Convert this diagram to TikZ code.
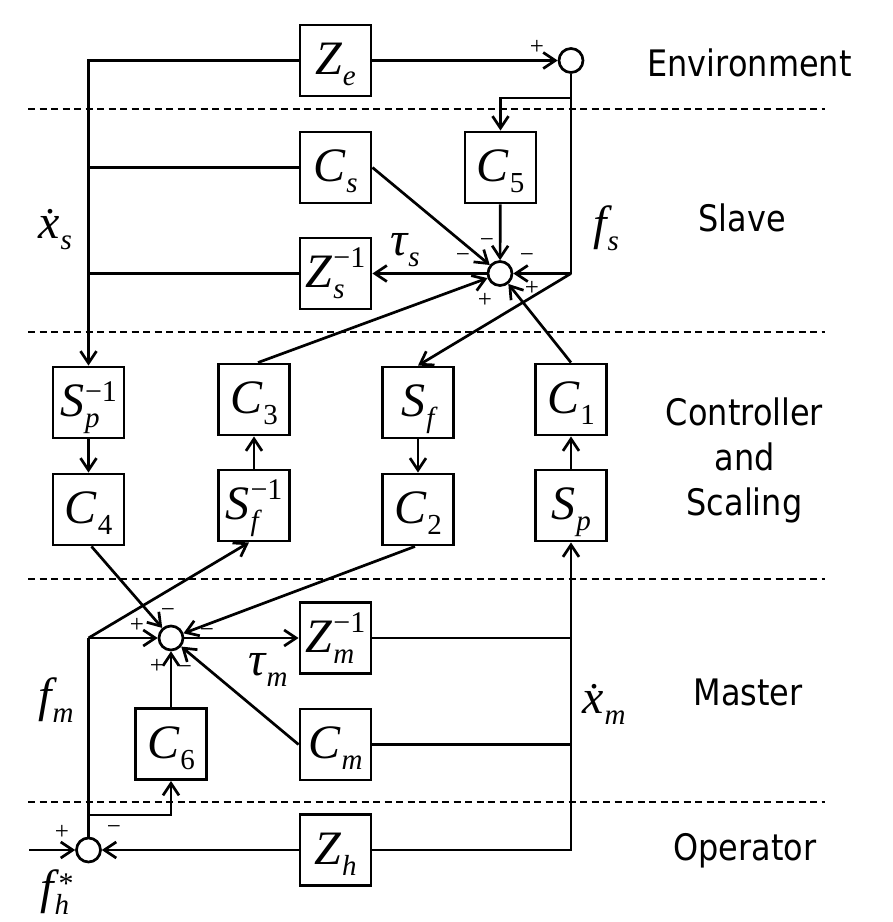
\documentclass[tikz,border=0pt]{standalone}
\usepackage{fontspec}
\usepackage{graphicx}
\setmainfont{Liberation Serif}
\newfontfamily\lblfont{DejaVu Sans}
\usetikzlibrary{arrows.meta}
\newcommand\Lsz{\fontsize{48}{48}\selectfont}
\newcommand\Ssz{\fontsize{29}{29}\selectfont}
\newcommand\Psz{\fontsize{30}{30}\selectfont}
\newcommand\blk[4][20pt]{{\Lsz\itshape #2}\kern1pt\ooalign{\raisebox{-11pt}{\Ssz #3}\cr\raisebox{#1}{\Psz #4}\cr}}
\newcommand\xdt{\rlap{\kern7pt\raisebox{25pt}{\fontsize{40}{40}\selectfont\upshape.}}x}
\newcommand\regl[1]{\scalebox{0.875}[1]{#1}}
\tikzset{
  blkbox/.style={draw, line width=2.9pt, minimum width=71pt, minimum height=71pt, inner sep=0pt, text height=40pt, text depth=12pt},
  sumc/.style={draw, circle, line width=2.7pt, minimum size=24pt, inner sep=0pt},
  ln/.style={line width=2.7pt},
  arr/.style={line width=2.7pt, -{Straight Barb[length=12pt,width=16pt]}},
  dsh/.style={line width=1.9pt, dash pattern=on 7pt off 4.5pt},
  sgn/.style={font=\fontsize{25}{25}\selectfont, inner sep=0pt},
  lab/.style={inner sep=0pt, anchor=base},
  regn/.style={font=\lblfont\fontsize{36.5}{44}\selectfont, inner sep=0pt, anchor=base}
}
\begin{document}
\begin{tikzpicture}[x=1pt,y=-1pt]
\fill[white] (0,0) rectangle (893,922);
\useasboundingbox (0,0) rectangle (893,922);
% dashed separators
\draw[dsh] (28,109) -- (825,109);
\draw[dsh] (28,332) -- (825,332);
\draw[dsh] (28,579) -- (825,579);
\draw[dsh] (28,802) -- (825,802);
% region labels
\node[regn] (renv) at (749.5,76) {\regl{Environment}};
\node[regn] (rsl) at (742,231) {\regl{Slave}};
\node[regn] (rc1) at (744.5,425) {\regl{Controller}};
\node[regn] (rc2) at (744.5,470) {\regl{and}};
\node[regn] (rc3) at (744.5,515) {\regl{Scaling}};
\node[regn] (rma) at (748,705) {\regl{Master}};
\node[regn] (rop) at (745,860) {\regl{Operator}};
% blocks
\node[blkbox] (Ze)  at (335.5,60.5)  {\blk{Z}{\itshape e}{}};
\node[blkbox] (Cs)  at (335.5,167.5) {\blk{C}{\itshape s}{}};
\node[blkbox] (C5)  at (500.5,167.5) {\blk{C}{5}{}};
\node[blkbox] (Zsi) at (335.5,273.5) {\blk{Z}{\itshape s}{−1}};
\node[blkbox] (Spi) at (88.5,402.5)  {\blk[15pt]{S}{\itshape p}{−1}};
\node[blkbox] (C3)  at (254,399.5)   {\blk{C}{3}{}};
\node[blkbox] (Sf)  at (418,402.5)   {\blk{S}{\itshape f}{}};
\node[blkbox] (C1)  at (571,399.5)   {\blk{C}{1}{}};
\node[blkbox] (C4)  at (88.5,509.5)  {\blk{C}{4}{}};
\node[blkbox] (Sfi) at (254,505.5)   {\blk{S}{\itshape f}{−1}};
\node[blkbox] (C2)  at (418,509.5)   {\blk{C}{2}{}};
\node[blkbox] (Sp)  at (571,505.5)   {\blk{S}{\itshape p}{}};
\node[blkbox] (Zmi) at (335.5,638)   {\blk{Z}{\itshape m}{−1}};
\node[blkbox] (Cm)  at (335.5,744.5) {\blk{C}{\itshape m}{}};
\node[blkbox] (C6)  at (171,744)     {\blk{C}{6}{}};
\node[blkbox] (Zh)  at (335.5,850)   {\blk{Z}{\itshape h}{}};
% summing junctions
\node[sumc] (esum) at (571,60.5) {};
\node[sumc] (ssum) at (500,273.5) {};
\node[sumc] (msum) at (171,638) {};
\node[sumc] (osum) at (88.5,850) {};
% branch coordinates
\coordinate (fsc) at (571,273.5);
\coordinate (c5t) at (571,98);
\coordinate (fmc) at (88.5,638);
\coordinate (c6b) at (88.5,815);
\coordinate (fin) at (29,850);
% environment / slave
\draw[arr] (Ze) -- (esum);
\draw[arr] (Ze.west) -| (Spi.north);
\draw[ln] (Cs.west) -- (Cs.west -| Spi.north);
\draw[ln] (Zsi.west) -- (Zsi.west -| Spi.north);
\draw[ln] (esum) -- (fsc);
\draw[arr] (c5t) -| (C5.north);
\draw[arr] (fsc) -- (ssum);
\draw[arr] (fsc) -- (Sf.north);
\draw[arr] (Cs.east) -- (ssum);
\draw[arr] (C5) -- (ssum);
\draw[arr] (ssum) -- (Zsi);
\draw[arr] ([xshift=4pt]C3.north) -- (ssum);
\draw[arr] (C1.north) -- (ssum);
% controller
\draw[arr] (Spi) -- (C4);
\draw[arr] (Sfi) -- (C3);
\draw[arr] (Sf) -- (C2);
\draw[arr] (Sp) -- (C1);
% master
\draw[arr] ([xshift=3pt]C4.south) -- (msum);
\draw[arr] ([xshift=-3pt]C2.south) -- (msum);
\draw[arr] (fmc) -- (msum);
\draw[arr] (fmc) -- ([xshift=-5pt]Sfi.south);
\draw[arr] (msum) -- (Zmi);
\draw[arr] (C6) -- (msum);
\draw[arr] (Cm.west) -- (msum);
\draw[ln] (osum) -- (fmc);
\draw[arr] (c6b) -| (C6.south);
\draw[arr] (Zh.east) -| (Sp.south);
\draw[ln] (Zmi.east) -- (Zmi.east -| Sp.south);
\draw[ln] (Cm.east) -- (Cm.east -| Sp.south);
% operator
\draw[arr] (Zh) -- (osum);
\draw[arr] (fin) -- (osum);
% signal labels
\node[lab] (lxs) at (55,238) {\blk{\xdt}{\itshape s}{}};
\node[lab] (lfs) at (606,239) {\blk{f}{\itshape s}{}};
\node[lab] (lts) at (405,255) {\blk{τ}{\itshape s}{}};
\node[lab] (lfm) at (56,711) {\blk{f}{\itshape m}{}};
\node[lab] (ltm) at (268,675) {\blk{τ}{\itshape m}{}};
\node[lab] (lxm) at (604,713) {\blk{\xdt}{\itshape m}{}};
\node[lab] (lfh) at (57,903.5) {\blk[10pt]{f}{\itshape h}{\kern4pt*}};
% signs
\node[sgn] (g1) at (537,47) {+};
\node[sgn] (g2) at (463,258) {−};
\node[sgn] (g3) at (487,243) {−};
\node[sgn] (g4) at (527,258) {−};
\node[sgn] (g5) at (485,300) {+};
\node[sgn] (g6) at (532,288) {+};
\node[sgn] (g7) at (137,625) {+};
\node[sgn] (g8) at (168,613) {−};
\node[sgn] (g9) at (207,633) {−};
\node[sgn] (g10) at (157,666) {+};
\node[sgn] (g11) at (185,670) {−};
\node[sgn] (g12) at (62,832) {+};
\node[sgn] (g13) at (114,830) {−};
\end{tikzpicture}
\end{document}
